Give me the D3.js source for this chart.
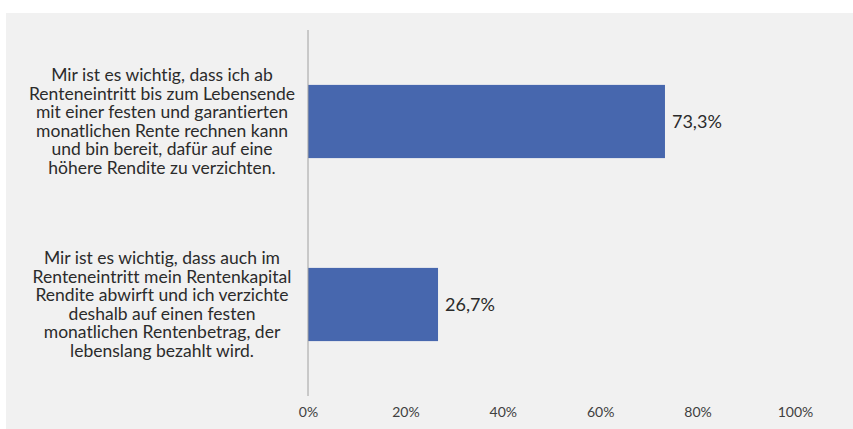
<!DOCTYPE html>
<html><head><meta charset="utf-8">
<script src="https://cdn.jsdelivr.net/npm/d3@7"></script>
<style>body{margin:0;background:#fff;}svg{display:block;}text{font-variant-ligatures:none;}</style>
</head><body>
<script>
const categories = [
  ["Mir ist es wichtig, dass ich ab","Renteneintritt bis zum Lebensende","mit einer festen und garantierten","monatlichen Rente rechnen kann","und bin bereit, dafür auf eine","höhere Rendite zu verzichten."],
  ["Mir ist es wichtig, dass auch im","Renteneintritt mein Rentenkapital","Rendite abwirft und ich verzichte","deshalb auf einen festen","monatlichen Rentenbetrag, der","lebenslang bezahlt wird."]
];
const values = [0.733, 0.267];
const valueLabels = ["73,3%", "26,7%"];
const tickValues = [0, 0.2, 0.4, 0.6, 0.8, 1.0];

const W = 853, H = 429;
const svg = d3.select("body").append("svg").attr("width", W).attr("height", H);
svg.append("rect").attr("x", 6).attr("y", 13).attr("width", W - 6).attr("height", H - 13).attr("fill", "#f1f1f1");

const x = d3.scaleLinear().domain([0, 1]).range([308, 795]);
const y = d3.scaleBand().domain(d3.range(categories.length)).range([30, 396]).paddingInner(0.6).paddingOuter(0.3);

const font = "Lato, 'Open Sans', sans-serif";

svg.selectAll("rect.bar").data(values).enter().append("rect")
  .attr("class", "bar")
  .attr("x", x(0)).attr("y", (d, i) => y(i))
  .attr("width", d => x(d) - x(0)).attr("height", y.bandwidth())
  .attr("fill", "#4767ae");

svg.selectAll("text.val").data(values).enter().append("text")
  .attr("x", d => x(d) + 7).attr("y", (d, i) => y(i) + y.bandwidth() / 2)
  .attr("dy", "0.35em")
  .attr("font-family", font).attr("font-size", 18).attr("fill", "#2b2b2b")
  .text((d, i) => valueLabels[i]);

// axis line
svg.append("line").attr("x1", x(0)).attr("x2", x(0)).attr("y1", 30).attr("y2", 396)
  .attr("stroke", "#a0a0a0").attr("stroke-width", 1);

// x tick labels
const xAxis = d3.axisBottom(x).tickValues(tickValues).tickSize(0).tickPadding(0)
  .tickFormat(d => Math.round(d * 100) + "%");
const gx = svg.append("g").attr("transform", "translate(0,407)").call(xAxis);
gx.select(".domain").remove();
gx.selectAll("text").attr("font-family", font).attr("font-size", 14).attr("fill", "#404040").attr("dy", "0.71em");

// category labels
const lh = 18.5;
categories.forEach((lines, i) => {
  const cy = y(i) + y.bandwidth() / 2;
  const t = svg.append("text").attr("text-anchor", "middle")
    .attr("font-family", font).attr("font-size", 17.5).attr("fill", "#2b2b2b");
  lines.forEach((l, j) => {
    t.append("tspan").attr("x", 162)
      .attr("y", cy + (j - (lines.length - 1) / 2) * lh)
      .attr("dy", "0.35em").text(l);
  });
});
</script>
</body></html>
